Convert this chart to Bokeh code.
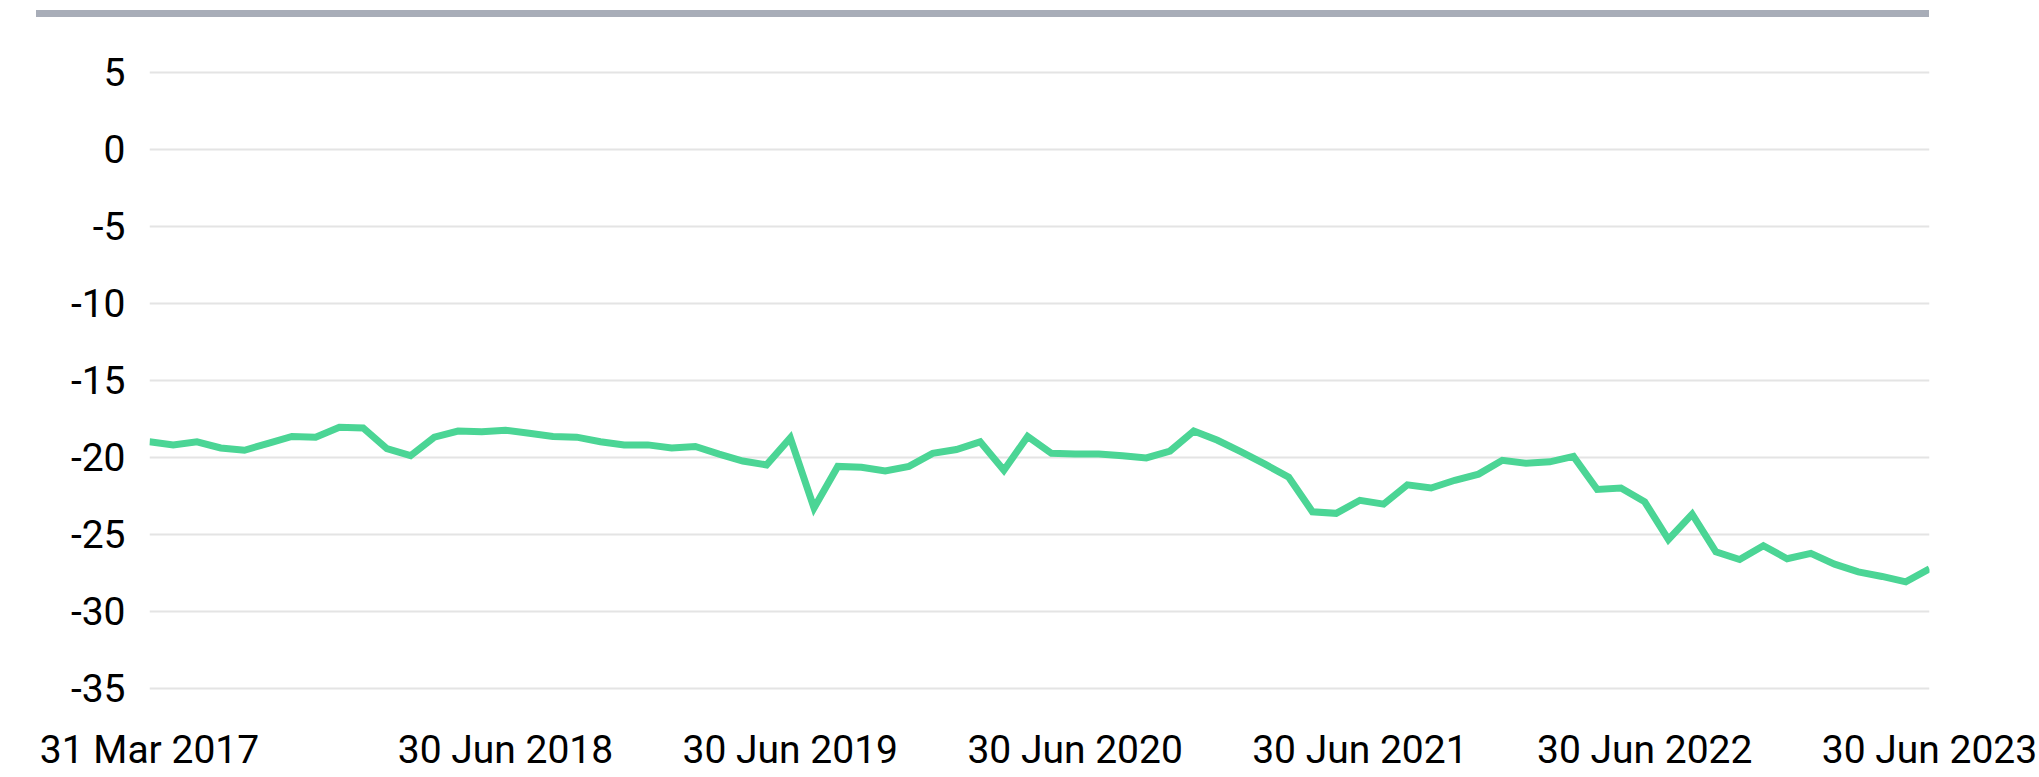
from bokeh.plotting import figure
from bokeh.layouts import column
from bokeh.models import FixedTicker, Range1d, ColumnDataSource, Div
from bokeh.embed import file_html
from bokeh.resources import INLINE
import pandas as pd

# Month-end dates, 31 Mar 2017 .. 30 Jun 2023
dates = list(pd.date_range("2017-03-31", "2023-06-30", freq="ME"))

values = [
    -19.0, -19.2, -19.0, -19.4, -19.55, -19.1, -18.65, -18.7, -18.05, -18.1,
    -19.45, -19.9, -18.7, -18.3, -18.35, -18.25, -18.45, -18.65, -18.7, -19.0,
    -19.2, -19.2, -19.4, -19.3, -19.8, -20.25, -20.5, -18.75, -23.3, -20.6,
    -20.65, -20.9, -20.6, -19.75, -19.5, -19.0, -20.85, -18.65, -19.75, -19.8,
    -19.8, -19.9, -20.05, -19.6, -18.3, -18.9, -19.65, -20.45, -21.3, -23.55,
    -23.65, -22.8, -23.05, -21.8, -22.0, -21.5, -21.1, -20.2, -20.4, -20.3,
    -19.95, -22.1, -22.0, -22.9, -25.35, -23.7, -26.15, -26.65, -25.75, -26.6,
    -26.25, -26.95, -27.45, -27.75, -28.1, -27.25,
]

tick_dates = ["2017-03-31", "2018-06-30", "2019-06-30", "2020-06-30",
              "2021-06-30", "2022-06-30", "2023-06-30"]
tick_labels = ["31 Mar 2017", "30 Jun 2018", "30 Jun 2019", "30 Jun 2020",
               "30 Jun 2021", "30 Jun 2022", "30 Jun 2023"]

y_ticks = [5, 0, -5, -10, -15, -20, -25, -30, -35]
y_tick_labels = ["5", "0", "-5", "-10", "-15", "-20", "-25", "-30", "-35"]

x_idx = list(range(len(dates)))
date_pos = {d.strftime("%Y-%m-%d"): i for i, d in enumerate(dates)}
tick_pos = [date_pos[d] for d in tick_dates]

src = ColumnDataSource(dict(x=x_idx, y=values))

FONT = "Roboto"
W = 2039

# ---- grey header bar ----
bar = Div(text="", width=1893, height=7, margin=(10, 0, 3, 36),
          styles={"background-color": "#a8adb8"})

# ---- main chart ----
p = figure(
    width=W, height=757,
    output_backend="svg", toolbar_location=None,
    x_range=Range1d(0, len(dates) - 1),
    y_range=Range1d(-35.812, 7.079),
    min_border_left=149, min_border_right=110,
    min_border_top=20, min_border_bottom=77,
    background_fill_color="white", border_fill_color="white",
)
p.outline_line_color = None

p.line("x", "y", source=src, line_color="#4bd595", line_width=7,
       line_join="miter")

p.xaxis.ticker = FixedTicker(ticks=tick_pos)
p.xaxis.major_label_overrides = {pos: lab for pos, lab in zip(tick_pos, tick_labels)}
p.yaxis.ticker = FixedTicker(ticks=y_ticks)
p.yaxis.major_label_overrides = {t: l for t, l in zip(y_ticks, y_tick_labels)}

for ax in (p.xaxis[0], p.yaxis[0]):
    ax.axis_line_color = None
    ax.major_tick_line_color = None
    ax.minor_tick_line_color = None
    ax.major_tick_out = 0
    ax.major_tick_in = 0
    ax.minor_tick_out = 0
    ax.major_label_text_font = FONT
    ax.major_label_text_font_size = "39px"
    ax.major_label_text_color = "#000000"

p.yaxis.major_label_standoff = 24
p.xaxis.major_label_standoff = 26

p.xgrid.grid_line_color = None
p.ygrid.ticker = FixedTicker(ticks=y_ticks)
p.ygrid.grid_line_color = "#e4e4e4"
p.ygrid.grid_line_width = 1.8

layout = column(bar, p, spacing=0)

open("out.html", "w").write(file_html(layout, INLINE))
